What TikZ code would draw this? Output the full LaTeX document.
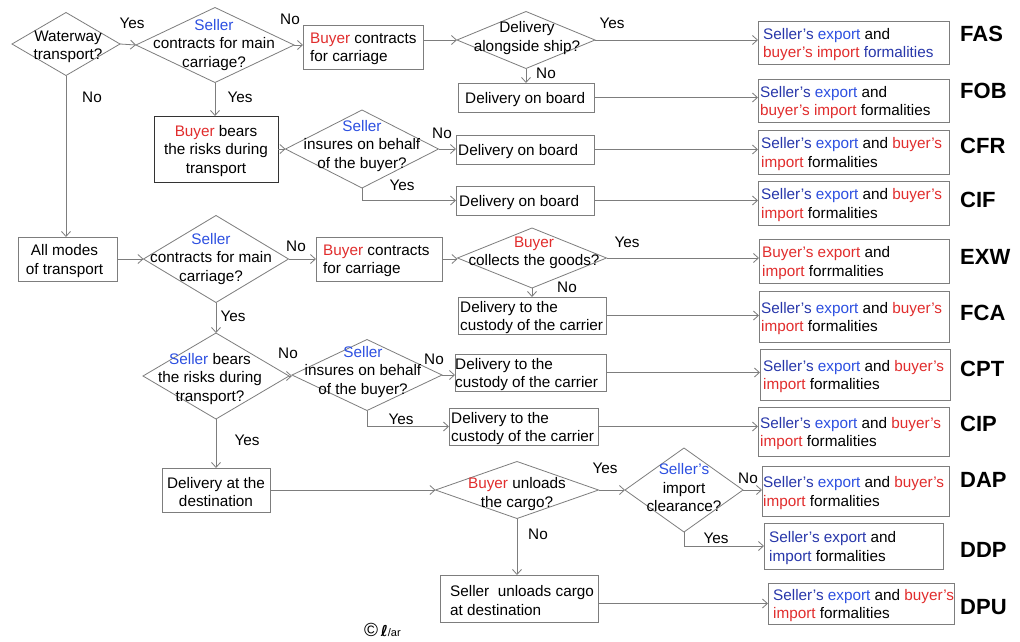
\documentclass[tikz,border=0pt]{standalone}
\usepackage{fontspec}
\setmainfont{Liberation Sans}
\newfontfamily\dejavu{DejaVu Sans}
\usetikzlibrary{shapes.geometric,arrows.meta}
\definecolor{lc}{RGB}{125,125,125}
\definecolor{sb}{RGB}{40,55,170}
\definecolor{eb}{RGB}{45,80,225}
\definecolor{rd}{RGB}{225,45,45}
\newcommand\Sl[1]{\textcolor{sb}{#1}}
\newcommand\Ex[1]{\textcolor{eb}{#1}}
\newcommand\Rd[1]{\textcolor{rd}{#1}}
\tikzset{
 every node/.style={font=\fontsize{15.3}{18.5}\selectfont},
 ln/.style={draw=lc, line width=0.8pt},
 arr/.style={ln, -{Straight Barb[length=5pt,width=9pt]}},
 dia/.style={diamond, draw=lc, line width=0.8pt, inner sep=0pt, outer sep=0pt},
 box/.style={rectangle, draw=lc, line width=0.8pt, inner sep=0pt, outer sep=0pt},
 txt/.style={inner sep=0pt, align=left, yshift=-2pt},
 lab/.style={inner sep=0pt},
 code/.style={inner sep=0pt, anchor=west, font=\fontsize{22}{22}\selectfont\bfseries},
}
% diamond: name, cx, cy, w, h, tx, ty, text
\newcommand\Dia[8]{\node[dia, minimum width=#4pt, minimum height=#5pt] (#1) at (#2,#3) {};
 \node[txt, align=center] at (#6,#7) {#8};}
% box with left text: name, x1, y1, x2, y2, inset, text
\newcommand\Bx[7]{%
 \pgfmathsetmacro\myW{#4-#2}\pgfmathsetmacro\myH{#5-#3}%
 \pgfmathsetmacro\myX{(#2+#4)/2}\pgfmathsetmacro\myY{(#3+#5)/2}%
 \node[box, minimum width=\myW pt, minimum height=\myH pt] (#1) at (\myX,\myY) {};
 \node[txt, anchor=west] at ([xshift=#6pt]#1.west) {#7};}
% box with centred text: name, x1, y1, x2, y2, xoffset, text, style
\newcommand\Bc[8]{%
 \pgfmathsetmacro\myW{#4-#2}\pgfmathsetmacro\myH{#5-#3}%
 \pgfmathsetmacro\myX{(#2+#4)/2}\pgfmathsetmacro\myY{(#3+#5)/2}%
 \node[box, minimum width=\myW pt, minimum height=\myH pt, #8] (#1) at (\myX,\myY) {};
 \node[txt, align=center] at ([xshift=#6pt]#1.center) {#7};}
\begin{document}
\begin{tikzpicture}[x=1pt,y=-1pt]
\fill[white] (0,0) rectangle (1020,641);
\useasboundingbox (0,0) rectangle (1020,641);

% ---------- waterway part ----------
\Dia{d1}{66}{44}{108}{63}{68}{45}{Waterway\\transport?}
\Dia{d2}{215}{45}{158}{75}{214}{43}{\Ex{Seller}\\contracts for main\\carriage?}
\Bx{b1}{303}{25}{423}{69}{7}{\Rd{Buyer} contracts\\for carriage}
\Dia{d3}{526}{40}{138}{57}{527}{36}{Delivery\\alongside ship?}
\Bx{dob1}{458}{83}{594}{112}{7}{Delivery on board}
\Bc{bears}{154}{116}{278}{182}{0}{\Rd{Buyer} bears\\the risks during\\transport}{draw=black!80}
\Dia{d4}{362}{149}{153}{78}{362}{144}{\Ex{Seller}\\insures on behalf\\of the buyer?}
\Bx{dob2}{456}{135}{594}{164}{2}{Delivery on board}
\Bx{dob3}{456}{186}{594}{215}{3}{Delivery on board}

% ---------- all modes part ----------
\Bc{am}{18}{237}{117}{281}{-3}{All modes\\of transport}{}
\Dia{d5}{216}{259}{145}{87}{211}{257}{\Ex{Seller}\\contracts for main\\carriage?}
\Bx{b2}{316}{237}{442}{281}{7}{\Rd{Buyer} contracts\\for carriage}
\Dia{d6}{532}{258}{149}{60}{534}{251}{\Rd{Buyer}\\collects the goods?}
\Bx{doc1}{458}{297}{606}{334}{2}{Delivery to the\\custody of the carrier}
\Dia{d7}{216}{376}{146}{86}{210}{377}{\Ex{Seller} bears\\the risks during\\transport?}
\Dia{d8}{367}{375}{150}{71}{363}{370}{\Ex{Seller}\\insures on behalf\\of the buyer?}
\Bx{doc2}{455}{354}{606}{391}{0}{Delivery to the\\custody of the carrier}
\Bx{doc3}{449}{408}{598}{445}{2}{Delivery to the\\custody of the carrier}
\Bc{dest}{162}{468}{270}{512}{0}{Delivery at the\\destination}{}
\Dia{d9}{517}{490}{163}{57}{517}{492}{\Rd{Buyer} unloads\\the cargo?}
\Dia{d10}{684}{490}{118}{84}{684}{486}{\Ex{Seller’s}\\import\\clearance?}
\Bx{unl}{440}{575}{598}{622}{10}{Seller~ unloads cargo\\at destination}

% ---------- result boxes ----------
\Bx{fas}{758}{21}{949}{64}{5}{\Sl{Seller’s} \Ex{export} and\\\Rd{buyer’s import} \Sl{formalities}}
\Bx{fob}{758}{79}{949}{122}{2}{\Sl{Seller’s} \Ex{export} and\\\Rd{buyer’s import} formalities}
\Bx{cfr}{758}{130}{949}{174}{3}{\Sl{Seller’s} \Ex{export} and \Rd{buyer’s}\\\Rd{import} formalities}
\Bx{cif}{758}{181}{949}{225}{3}{\Sl{Seller’s} \Ex{export} and \Rd{buyer’s}\\\Rd{import} formalities}
\Bx{exw}{759}{239}{949}{283}{3}{\Rd{Buyer’s export} and\\\Rd{import} forrmalities}
\Bx{fca}{759}{291}{949}{342}{2}{\Sl{Seller’s} \Ex{export} and \Rd{buyer’s}\\\Rd{import} formalities}
\Bx{cpt}{760}{349}{950}{400}{3}{\Sl{Seller’s} \Ex{export} and \Rd{buyer’s}\\\Rd{import} formalities}
\Bx{cip}{758}{407}{949}{456}{2}{\Sl{Seller’s} \Ex{export} and \Rd{buyer’s}\\\Rd{import} formalities}
\Bx{dap}{762}{466}{949}{516}{1}{\Sl{Seller’s} \Ex{export} and \Rd{buyer’s}\\\Rd{import} formalities}
\Bx{ddp}{764}{523}{943}{569}{5}{\Sl{Seller’s} \Sl{export} and\\\Sl{import} formalities}
\Bx{dpu}{768}{583}{954}{624}{5}{\Sl{Seller’s} \Ex{export} and \Rd{buyer’s}\\\Rd{import} formalities}

% ---------- codes ----------
\node[code] (cFAS) at (960,34) {FAS};
\node[code] (cFOB) at (960,91) {FOB};
\node[code] (cCFR) at (960,146) {CFR};
\node[code] (cCIF) at (960,199.5) {CIF};
\node[code] (cEXW) at (960,256.5) {EXW};
\node[code] (cFCA) at (960,313) {FCA};
\node[code] (cCPT) at (960,369) {CPT};
\node[code] (cCIP) at (960,423.5) {CIP};
\node[code] (cDAP) at (960,479.5) {DAP};
\node[code] (cDDP) at (960,550) {DDP};
\node[code] (cDPU) at (960,607.5) {DPU};

% ---------- connectors ----------
\draw[arr] (d1.east) -- (d2.west);
\draw[arr] (d2.east) -- (d2.east -| b1.west);
\draw[arr] (d1.south) -- (d1.south |- am.north);
\draw[arr] (d2.south) -- (d2.south |- bears.north);
\draw[arr] (b1.east |- d3.west) -- (d3.west);
\draw[arr] (d3.east) -- (d3.east -| fas.west);
\draw[arr] (d3.south) -- (d3.south |- dob1.north);
\draw[arr] (dob1.east) -- (dob1.east -| fob.west);
\draw[arr] (bears.east) -- (bears.east -| d4.west);
\draw[arr] (d4.east) -- (d4.east -| dob2.west);
\draw[arr] (d4.south) |- (dob3.west);
\draw[arr] (dob2.east) -- (dob2.east -| cfr.west);
\draw[arr] (dob3.east) -- (dob3.east -| cif.west);
\draw[arr] (am.east) -- (am.east -| d5.west);
\draw[arr] (d5.east) -- (d5.east -| b2.west);
\draw[arr] (b2.east) -- (b2.east -| d6.west);
\draw[arr] (d6.east) -- (d6.east -| exw.west);
\draw[arr] (d6.south) -- (d6.south |- doc1.north);
\draw[arr] (doc1.east) -- (doc1.east -| fca.west);
\draw[arr] (d5.south) -- (d5.south |- d7.north);
\draw[arr] (d7.east) -- (d7.east -| d8.west);
\draw[arr] (d8.east) -- (d8.east -| doc2.west);
\draw[arr] (d8.south) |- (doc3.west);
\draw[arr] (doc2.east) -- (doc2.east -| cpt.west);
\draw[arr] (doc3.east) -- (doc3.east -| cip.west);
\draw[arr] (d7.south) -- (d7.south |- dest.north);
\draw[arr] (dest.east) -- (dest.east -| d9.west);
\draw[arr] (d9.east) -- (d10.west);
\draw[arr] (d10.east) -- (d10.east -| dap.west);
\draw[arr] (d10.south) |- (ddp.west);
\draw[arr] (d9.south) -- (d9.south |- unl.north);
\draw[arr] (unl.east |- dpu.west) -- (dpu.west);

% ---------- Yes / No labels ----------
\node[lab] (l1) at (132,23) {Yes};
\node[lab] (l2) at (290,19) {No};
\node[lab] (l3) at (92,97) {No};
\node[lab] (l4) at (240,97) {Yes};
\node[lab] (l5) at (612,23) {Yes};
\node[lab] (l6) at (546,73) {No};
\node[lab] (l7) at (442,133) {No};
\node[lab] (l8) at (402,185) {Yes};
\node[lab] (l9) at (296,246) {No};
\node[lab] (l10) at (233,316) {Yes};
\node[lab] (l11) at (288,353) {No};
\node[lab] (l12) at (627,242) {Yes};
\node[lab] (l13) at (567,287) {No};
\node[lab] (l14) at (434,359) {No};
\node[lab] (l15) at (401,419) {Yes};
\node[lab] (l16) at (247,440) {Yes};
\node[lab] (l17) at (605,468) {Yes};
\node[lab] (l18) at (748,478) {No};
\node[lab] (l19) at (716,538) {Yes};
\node[lab] (l20) at (538,534) {No};

% ---------- logo ----------
\node[lab, anchor=west] (logo) at (364,630) {{\fontsize{19}{19}\selectfont ©}\,{\dejavu\bfseries\itshape\fontsize{15}{15}\selectfont ℓ}{\fontsize{11}{11}\selectfont /ar}};
\end{tikzpicture}
\end{document}
